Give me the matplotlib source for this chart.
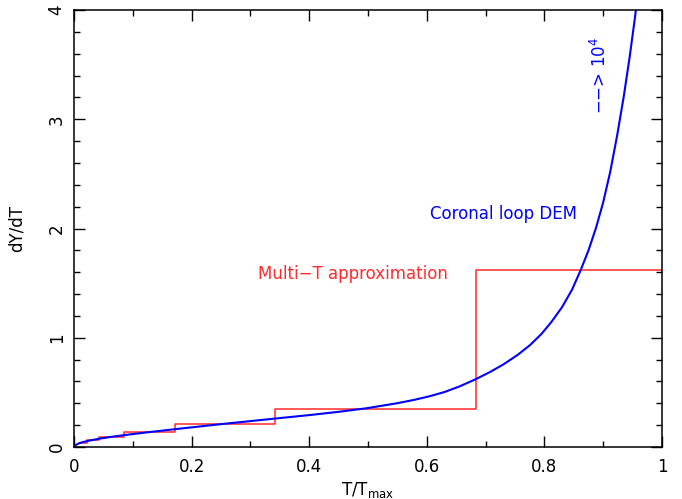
import numpy as np
import matplotlib
matplotlib.use("Agg")
import matplotlib.pyplot as plt
from matplotlib.ticker import MultipleLocator, FuncFormatter

# coronal loop DEM
t_dem = [0.000, 0.003, 0.008, 0.015, 0.025, 0.044, 0.065, 0.087, 0.124, 0.180,
         0.253, 0.300, 0.345, 0.400, 0.450, 0.498, 0.549, 0.580, 0.605, 0.630,
         0.655, 0.683, 0.707, 0.730, 0.755, 0.776, 0.795, 0.812, 0.830, 0.847,
         0.862, 0.875, 0.888, 0.900, 0.912, 0.924, 0.935, 0.945, 0.954, 0.962]
y_dem = [0.000, 0.018, 0.033, 0.045, 0.057, 0.077, 0.094, 0.110, 0.134, 0.168,
         0.211, 0.237, 0.262, 0.292, 0.322, 0.355, 0.400, 0.433, 0.465, 0.503,
         0.553, 0.620, 0.685, 0.755, 0.845, 0.935, 1.035, 1.145, 1.280, 1.440,
         1.623, 1.800, 2.010, 2.240, 2.520, 2.860, 3.210, 3.570, 3.930, 4.300]

# multi-T approximation: bin edges and levels
t_edges = [0.0107, 0.0214, 0.0427, 0.0854, 0.171, 0.342, 0.683, 1.0]
y_levels = [0.040, 0.062, 0.094, 0.137, 0.212, 0.351, 1.623]


def xfmt(v, pos):
    if abs(v) < 1e-9:
        return '0'
    if abs(v - 1) < 1e-9:
        return '1'
    return f'{v:.1f}'


fig = plt.figure(figsize=(6.82, 4.99), dpi=100)
ax = fig.add_axes([74/682, 1 - 447/499, 588/682, 437/499])

ax.step(t_edges, y_levels + [y_levels[-1]], where='post', color='#ff2a2a', lw=1.1)
ax.plot(t_dem, y_dem, color='#0000ff', lw=1.5)

ax.set_xlim(0, 1)
ax.set_ylim(0, 4)
ax.xaxis.set_major_locator(MultipleLocator(0.2))
ax.xaxis.set_minor_locator(MultipleLocator(0.1))
ax.yaxis.set_major_locator(MultipleLocator(1))
ax.yaxis.set_minor_locator(MultipleLocator(0.2))
ax.xaxis.set_major_formatter(FuncFormatter(xfmt))
ax.yaxis.set_major_formatter(FuncFormatter(lambda v, p: f'{v:.0f}'))
ax.tick_params(which='both', direction='in', top=True, right=True, labelsize=12, colors='black')
ax.tick_params(which='major', length=8, width=1)
ax.tick_params(which='minor', length=4, width=1)
for lab in ax.get_yticklabels():
    lab.set_rotation(90)
    lab.set_va('center')
ax.tick_params(axis='y', pad=6)
ax.tick_params(axis='x', pad=8)
for s in ax.spines.values():
    s.set_linewidth(1.1)

ax.set_xlabel(r'T/T$_{\rm max}$', fontsize=12, labelpad=3)
ax.set_ylabel('dY/dT', fontsize=12, labelpad=16)

ax.text(0.73, 2.13, 'Coronal loop DEM', color='#0000ff', fontsize=12, ha='center', va='center')
ax.text(0.474, 1.58, 'Multi\u2212T approximation', color='#ff2a2a', fontsize=12, ha='center', va='center')
ax.text(0.895, 3.40, '\u2212\u2212> 10$^4$', color='#0000ff', fontsize=12, rotation=90,
        ha='center', va='center')

fig.savefig('out.png', dpi=100)
